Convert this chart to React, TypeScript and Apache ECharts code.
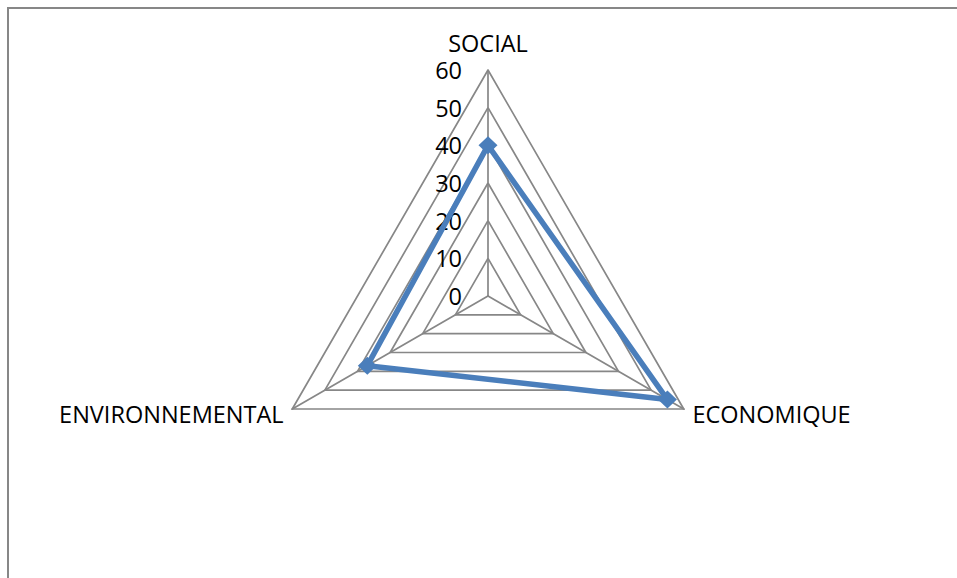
import React, { useEffect, useRef } from "react";
import * as echarts from "echarts";

// Listed in counter-clockwise drawing order, starting at the top
const indicators = ["SOCIAL", "ENVIRONNEMENTAL", "ECONOMIQUE"];
const values = [40, 37, 55];
const axisMax = 60;
const axisStep = 10;

const CENTER_X = 488;
const CENTER_Y = 296;
const RADIUS = 226;
const GRAY = "#878787";
const BLUE = "#4A7EBB";
const FONT = "Open Sans";

export default function App() {
  const ref = useRef<HTMLDivElement>(null);

  useEffect(() => {
    if (!ref.current) return;
    const chart = echarts.init(ref.current, null, { renderer: "svg" });
    chart.setOption({
      animation: false,
      backgroundColor: "#ffffff",
      textStyle: { fontFamily: FONT },
      graphic: [
        {
          type: "rect",
          shape: { x: 8, y: 8, width: 1100, height: 700 },
          style: { fill: "none", stroke: GRAY, lineWidth: 2 },
          silent: true,
          z: -1,
        },
      ],
      radar: {
        center: [CENTER_X, CENTER_Y],
        radius: RADIUS,
        startAngle: 90,
        shape: "polygon",
        splitNumber: axisMax / axisStep,
        nameGap: 10,
        axisName: { color: "#000", fontSize: 23.5, fontFamily: FONT, lineHeight: 35 },
        indicator: indicators.map((name) => ({ name, min: 0, max: axisMax })),
        axisLine: { lineStyle: { color: GRAY, width: 1.7 } },
        splitLine: { lineStyle: { color: GRAY, width: 1.7 } },
        splitArea: { show: false },
        axisLabel: { show: false },
        axisTick: { show: false },
      },
      // Value scale drawn along the SOCIAL spoke
      grid: {
        left: CENTER_X,
        top: CENTER_Y - RADIUS,
        height: RADIUS,
        width: 1,
        containLabel: false,
      },
      xAxis: { type: "value", show: false },
      yAxis: {
        type: "value",
        min: 0,
        max: axisMax,
        interval: axisStep,
        axisLine: { show: false },
        axisTick: { show: false },
        splitLine: { show: false },
        axisLabel: { color: "#000", fontSize: 23.5, fontFamily: FONT, margin: 26 },
      },
      series: [
        {
          type: "radar",
          symbol: "diamond",
          symbolSize: [19, 18],
          lineStyle: { color: BLUE, width: 5.5 },
          itemStyle: { color: BLUE },
          data: [{ value: values, name: "Score" }],
        },
      ],
    });
    return () => chart.dispose();
  }, []);

  return (
    <div
      ref={ref}
      style={{ position: "absolute", left: 0, top: 0, width: 957, height: 578 }}
    />
  );
}
